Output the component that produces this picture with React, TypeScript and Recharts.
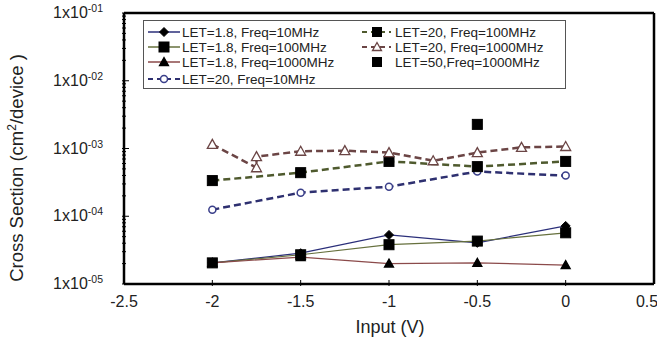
import React from 'react';
import { LineChart, Line, XAxis, YAxis, ReferenceLine } from 'recharts';

const xMain = [-2, -1.5, -1, -0.5, 0];
const let18f10 = [2.05e-5, 2.85e-5, 5.3e-5, 4.05e-5, 7.2e-5];
const let18f100 = [2.05e-5, 2.7e-5, 3.8e-5, 4.3e-5, 5.7e-5];
const let18f1000 = [2.05e-5, 2.5e-5, 2.0e-5, 2.05e-5, 1.9e-5];
const let20f10 = [1.25e-4, 2.23e-4, 2.73e-4, 4.57e-4, 3.98e-4];
const let20f100 = [3.36e-4, 4.4e-4, 6.45e-4, 5.4e-4, 6.45e-4];
const x20f1000 = [-2, -1.75, -1.75, -1.5, -1.25, -1, -0.75, -0.5, -0.25, 0];
const let20f1000 = [1.15e-3, 5.2e-4, 7.6e-4, 9.1e-4, 9.3e-4, 8.7e-4, 6.6e-4, 8.7e-4, 1.04e-3, 1.07e-3];
const x50f1000 = [-0.5];
const let50f1000 = [2.27e-3];

const xTicks = [-2.5, -2, -1.5, -1, -0.5, 0, 0.5];
const decades = [-5, -4, -3, -2, -1];
const legendLeft = ['LET=1.8, Freq=10MHz', 'LET=1.8, Freq=100MHz', 'LET=1.8, Freq=1000MHz', 'LET=20, Freq=10MHz'];
const legendRight = ['LET=20, Freq=100MHz', 'LET=20, Freq=1000MHz', 'LET=50,Freq=1000MHz'];

const toData = (xs: number[], ys: number[]) => xs.map((x, i) => ({ x, y: ys[i] }));

const yTicks: number[] = [];
decades.forEach((d) => {
  if (d === -1) { yTicks.push(Math.pow(10, d)); return; }
  for (let m = 1; m <= 9; m++) yTicks.push(m * Math.pow(10, d));
});

const FONT = 'Liberation Sans, Arial, sans-serif';

function Marker({ cx, cy, shape, fill, stroke, size }: any) {
  const s = size;
  if (shape === 'square') return <rect x={cx - s / 2} y={cy - s / 2} width={s} height={s} fill={fill} stroke={stroke} strokeWidth={1} />;
  if (shape === 'diamond') return <polygon points={`${cx},${cy - s / 2} ${cx + s / 2},${cy} ${cx},${cy + s / 2} ${cx - s / 2},${cy}`} fill={fill} stroke={stroke} strokeWidth={1} />;
  if (shape === 'triangle') return <polygon points={`${cx},${cy - s / 2} ${cx + s / 2},${cy + s / 2 - 1} ${cx - s / 2},${cy + s / 2 - 1}`} fill={fill} stroke={stroke} strokeWidth={1.3} />;
  return <circle cx={cx} cy={cy} r={s / 2} fill={fill} stroke={stroke} strokeWidth={1.5} />;
}

const makeDot = (shape: string, fill: string, stroke: string, size: number) => (p: any) => (
  <Marker key={`${shape}-${p.index}-${p.cx}`} cx={p.cx} cy={p.cy} shape={shape} fill={fill} stroke={stroke} size={size} />
);

const YTick = ({ x, y, payload }: any) => {
  const v = payload.value;
  const lg = Math.log10(v);
  const isMajor = Math.abs(lg - Math.round(lg)) < 1e-6;
  const e = Math.round(lg);
  return (
    <g>
      <line x1={x} x2={x + (isMajor ? 7 : 4)} y1={y} y2={y} stroke="#000" strokeWidth={1} />
      {isMajor && (
        <text x={x - 19} y={y + 5} textAnchor="end" fontFamily={FONT} fontSize={16} fill="#222">
          1x10<tspan dy={-6} fontSize={10.5}>{`-0${Math.abs(e)}`}</tspan>
        </text>
      )}
    </g>
  );
};

const XTick = ({ x, y, payload }: any) => {
  const v = payload.value;
  const inner = v > -2.5 && v < 0.5;
  const label = v === 0 ? '0' : String(v);
  return (
    <g>
      {inner && <line x1={x} x2={x} y1={y} y2={y - 6} stroke="#000" strokeWidth={1} />}
      <text x={x} y={y + 21} textAnchor="middle" fontFamily={FONT} fontSize={16} fill="#222">{label}</text>
    </g>
  );
};

const YTitle = () => (
  <text transform="translate(23,168) rotate(-90)" textAnchor="middle" fontFamily={FONT} fontSize={18.5} fill="#222">
    Cross Section (cm<tspan dy={-7} fontSize={12}>2</tspan><tspan dy={7}>/device )</tspan>
  </text>
);

const XTitle = () => (
  <text x={390} y={333} textAnchor="middle" fontFamily={FONT} fontSize={18} fill="#222">Input (V)</text>
);

const series = [
  { data: toData(xMain, let18f10), stroke: '#2b2f7a', dash: undefined, width: 1.2, dot: makeDot('diamond', '#000', '#000', 9) },
  { data: toData(xMain, let18f100), stroke: '#66703d', dash: undefined, width: 1.2, dot: makeDot('square', '#000', '#000', 10) },
  { data: toData(xMain, let18f1000), stroke: '#8b4a4a', dash: undefined, width: 1.2, dot: makeDot('triangle', '#000', '#000', 9) },
  { data: toData(xMain, let20f10), stroke: '#2e3070', dash: '7 4', width: 2.5, dot: makeDot('circle', '#fff', '#3a3f8a', 7) },
  { data: toData(xMain, let20f100), stroke: '#4f5a2e', dash: '7 4', width: 2.5, dot: makeDot('square', '#000', '#000', 10) },
  { data: toData(x20f1000, let20f1000), stroke: '#6b4545', dash: '7 4', width: 2.5, dot: makeDot('triangle', '#fff', '#6b4545', 10) },
];

function LegendBox() {
  const rowsL = [32, 47, 62, 79];
  const rowsR = [32, 47, 62];
  const lm = [
    { shape: 'diamond', fill: '#000', stroke: '#000', line: '#2b2f7a', dash: undefined, size: 9 },
    { shape: 'square', fill: '#000', stroke: '#000', line: '#66703d', dash: undefined, size: 10 },
    { shape: 'triangle', fill: '#000', stroke: '#000', line: '#8b4a4a', dash: undefined, size: 9 },
    { shape: 'circle', fill: '#fff', stroke: '#3a3f8a', line: '#2e3070', dash: '5 4', size: 7 },
  ];
  const rm = [
    { shape: 'square', fill: '#000', stroke: '#000', line: '#4f5a2e', dash: '5 4', size: 9 },
    { shape: 'triangle', fill: '#fff', stroke: '#6b4545', line: '#6b4545', dash: '5 4', size: 9 },
    { shape: 'square', fill: '#000', stroke: '#000', line: null, dash: undefined, size: 9 },
  ];
  return (
    <svg width={657} height={345} style={{ position: 'absolute', left: 0, top: 0, pointerEvents: 'none' }}>
      <rect x={143.5} y={20.5} width={422} height={68} fill="#fff" stroke="#555" strokeWidth={1} />
      {legendLeft.map((t, i) => (
        <g key={t}>
          <line x1={148} x2={180} y1={rowsL[i]} y2={rowsL[i]} stroke={lm[i].line} strokeWidth={lm[i].dash ? 2 : 1.5} strokeDasharray={lm[i].dash} />
          <Marker cx={164} cy={rowsL[i]} shape={lm[i].shape} fill={lm[i].fill} stroke={lm[i].stroke} size={lm[i].size} />
          <text x={182} y={rowsL[i] + 5} fontFamily={FONT} fontSize={13.5} fill="#222">{t}</text>
        </g>
      ))}
      {legendRight.map((t, i) => (
        <g key={t}>
          {rm[i].line && <line x1={362} x2={391} y1={rowsR[i]} y2={rowsR[i]} stroke={rm[i].line as string} strokeWidth={2} strokeDasharray={rm[i].dash} />}
          <Marker cx={377} cy={rowsR[i]} shape={rm[i].shape} fill={rm[i].fill} stroke={rm[i].stroke} size={rm[i].size} />
          <text x={395} y={rowsR[i] + 5} fontFamily={FONT} fontSize={13.5} fill="#222">{t}</text>
        </g>
      ))}
    </svg>
  );
}

export default function App() {
  return (
    <div style={{ position: 'absolute', left: 0, top: 0, width: 657, height: 345, background: '#fff' }}>
      <LineChart width={657} height={345} margin={{ top: 13, right: 3, left: 0, bottom: 0 }}>
        <XAxis
          type="number"
          dataKey="x"
          domain={[-2.5, 0.5]}
          ticks={xTicks}
          allowDuplicatedCategory={false}
          tick={<XTick />}
          tickLine={false}
          tickSize={0}
          height={61}
          axisLine={{ stroke: '#000', strokeWidth: 2.5 }}
          label={<XTitle />}
        />
        <YAxis
          type="number"
          dataKey="y"
          scale="log"
          domain={[1e-5, 1e-1]}
          ticks={yTicks}
          allowDataOverflow
          interval={0}
          tick={<YTick />}
          tickLine={false}
          tickSize={0}
          width={124}
          axisLine={{ stroke: '#000', strokeWidth: 2.5 }}
          label={<YTitle />}
        />
        <ReferenceLine y={1e-1} stroke="#000" strokeWidth={2.5} />
        <ReferenceLine x={0.5} stroke="#000" strokeWidth={2.5} />
        {series.map((s, i) => (
          <Line key={i} data={s.data} dataKey="y" type="linear" stroke={s.stroke} strokeWidth={s.width} strokeDasharray={s.dash} dot={s.dot} activeDot={false} isAnimationActive={false} />
        ))}
        <Line data={toData(x50f1000, let50f1000)} dataKey="y" stroke="none" dot={makeDot('square', '#000', '#000', 10)} activeDot={false} isAnimationActive={false} />
      </LineChart>
      <LegendBox />
    </div>
  );
}
